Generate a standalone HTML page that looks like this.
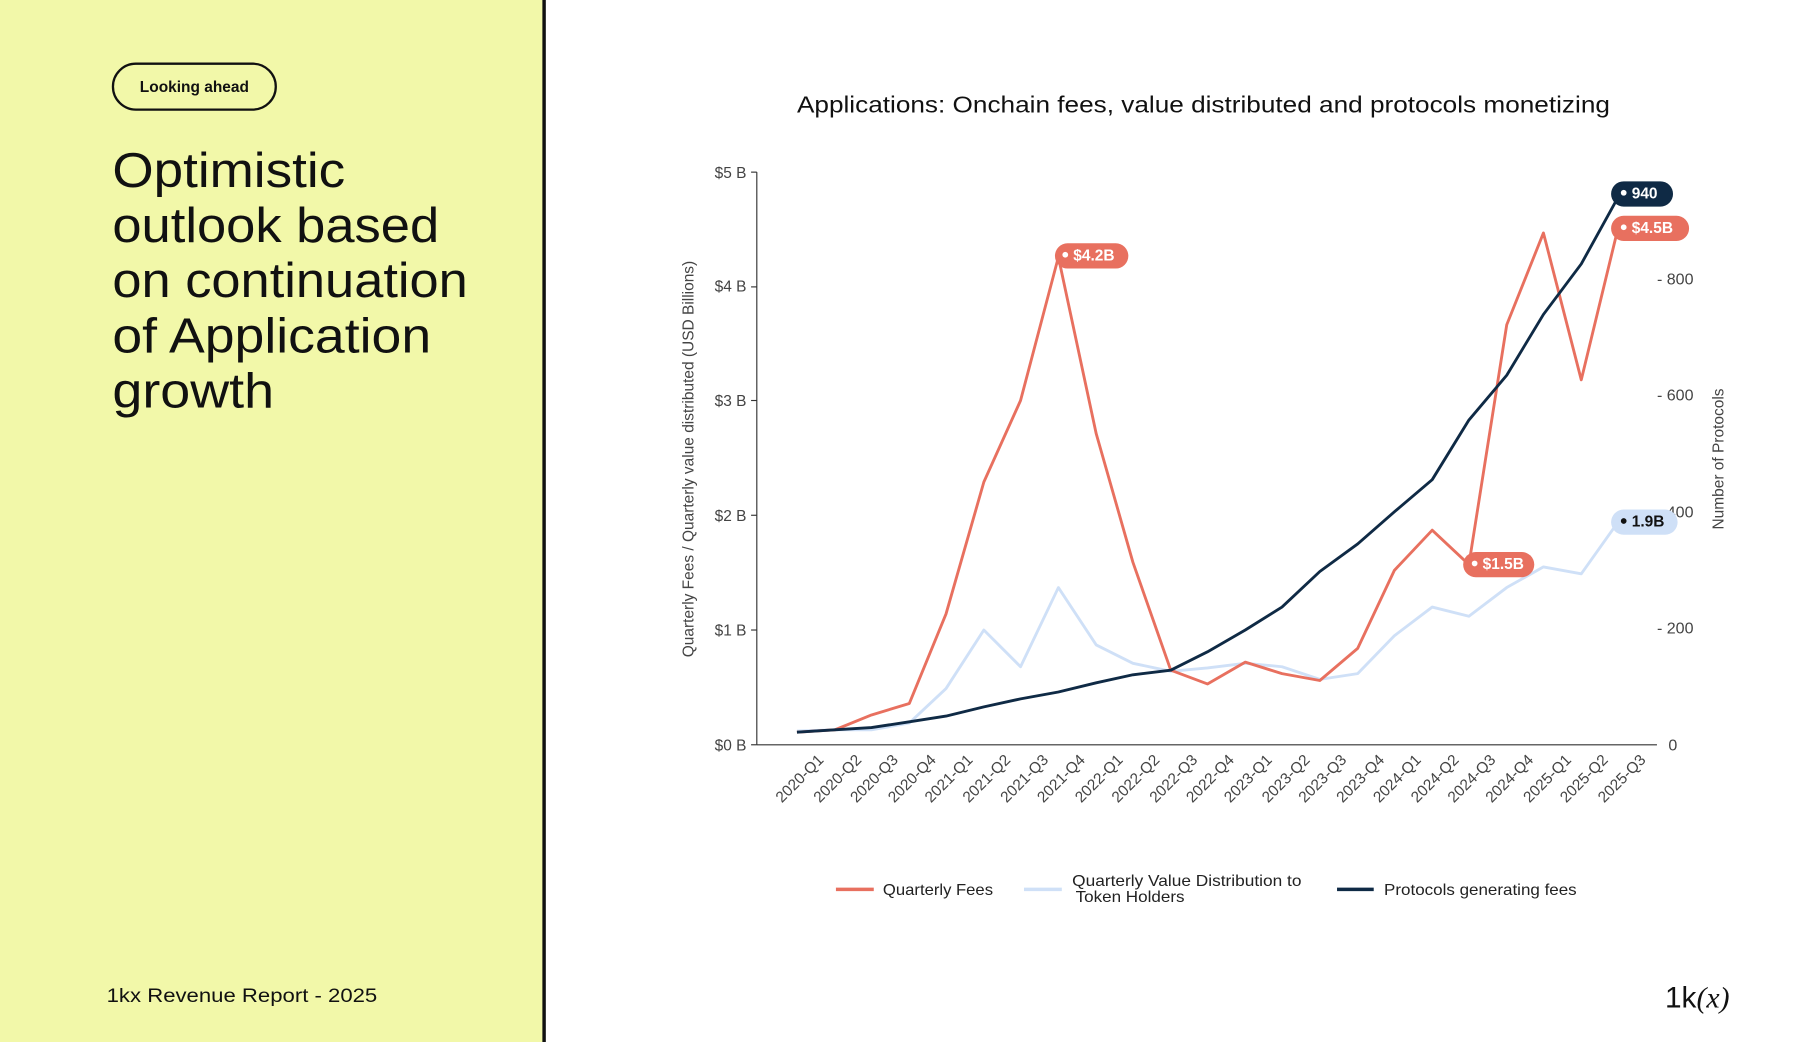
<!DOCTYPE html>
<html><head><meta charset="utf-8"><style>
html,body{margin:0;padding:0;background:#fff;}
svg{display:block;}
</style></head><body>
<svg width="1798" height="1042" viewBox="0 0 1568 908" preserveAspectRatio="none" xmlns="http://www.w3.org/2000/svg" font-family="Liberation Sans, sans-serif">
<rect x="0" y="0" width="1568" height="908" fill="#fff"/>
<rect x="0" y="0" width="474" height="908" fill="#f2f8a9"/>
<rect x="473" y="0" width="3" height="908" fill="#111"/>
<rect x="98.5" y="55.5" width="142" height="40" rx="20" fill="none" stroke="#111" stroke-width="2"/>
<text x="169.5" y="80" font-size="13.5" font-weight="bold" text-anchor="middle" fill="#111">Looking ahead</text>
<g font-size="43" fill="#111">
<text x="98" y="163" textLength="203" lengthAdjust="spacingAndGlyphs">Optimistic</text>
<text x="98" y="211" textLength="285" lengthAdjust="spacingAndGlyphs">outlook based</text>
<text x="98" y="259" textLength="310" lengthAdjust="spacingAndGlyphs">on continuation</text>
<text x="98" y="307" textLength="278" lengthAdjust="spacingAndGlyphs">of Application</text>
<text x="98" y="355" textLength="141" lengthAdjust="spacingAndGlyphs">growth</text>
</g>
<text x="93" y="873" font-size="17" fill="#111" textLength="236" lengthAdjust="spacingAndGlyphs">1kx Revenue Report  - 2025</text>
<text x="1452" y="878" font-size="26" fill="#111">1k<tspan font-family="Liberation Serif, serif" font-style="italic">(x)</tspan></text>

<text x="695" y="98" font-size="20" fill="#111" textLength="709" lengthAdjust="spacingAndGlyphs">Applications: Onchain fees, value distributed and protocols monetizing</text>

<line x1="660" y1="150" x2="660" y2="649" stroke="#333" stroke-width="1"/>
<g font-size="13.5" fill="#444" text-anchor="end">
<text x="651" y="155">$5 B</text><text x="651" y="254">$4 B</text><text x="651" y="354">$3 B</text>
<text x="651" y="454">$2 B</text><text x="651" y="554">$1 B</text><text x="651" y="654">$0 B</text>
</g>
<g stroke="#333"><line x1="655" y1="150" x2="660" y2="150"/><line x1="655" y1="250" x2="660" y2="250"/><line x1="655" y1="349" x2="660" y2="349"/><line x1="655" y1="449" x2="660" y2="449"/><line x1="655" y1="549" x2="660" y2="549"/><line x1="655" y1="649" x2="660" y2="649"/></g>
<line x1="660" y1="649" x2="1445" y2="649" stroke="#333"/>
<text transform="translate(605,400) rotate(-90)" font-size="13.5" fill="#444" text-anchor="middle">Quarterly Fees / Quarterly value distributed (USD Billions)</text>
<g font-size="14" fill="#444">
<text x="1445" y="248">- 800</text><text x="1445" y="349">- 600</text><text x="1445" y="451">- 400</text>
<text x="1445" y="552">- 200</text><text x="1455" y="654">0</text>
</g>
<text transform="translate(1503,400) rotate(-90)" font-size="13.5" fill="#444" text-anchor="middle">Number of Protocols</text>

<g font-size="13.5" fill="#444" text-anchor="end">
<text transform="translate(719,663) rotate(-45)">2020-Q1</text>
<text transform="translate(752,663) rotate(-45)">2020-Q2</text>
<text transform="translate(784,663) rotate(-45)">2020-Q3</text>
<text transform="translate(817,663) rotate(-45)">2020-Q4</text>
<text transform="translate(849,663) rotate(-45)">2021-Q1</text>
<text transform="translate(882,663) rotate(-45)">2021-Q2</text>
<text transform="translate(915,663) rotate(-45)">2021-Q3</text>
<text transform="translate(947,663) rotate(-45)">2021-Q4</text>
<text transform="translate(980,663) rotate(-45)">2022-Q1</text>
<text transform="translate(1012,663) rotate(-45)">2022-Q2</text>
<text transform="translate(1045,663) rotate(-45)">2022-Q3</text>
<text transform="translate(1077,663) rotate(-45)">2022-Q4</text>
<text transform="translate(1110,663) rotate(-45)">2023-Q1</text>
<text transform="translate(1143,663) rotate(-45)">2023-Q2</text>
<text transform="translate(1175,663) rotate(-45)">2023-Q3</text>
<text transform="translate(1208,663) rotate(-45)">2023-Q4</text>
<text transform="translate(1240,663) rotate(-45)">2024-Q1</text>
<text transform="translate(1273,663) rotate(-45)">2024-Q2</text>
<text transform="translate(1305,663) rotate(-45)">2024-Q3</text>
<text transform="translate(1338,663) rotate(-45)">2024-Q4</text>
<text transform="translate(1371,663) rotate(-45)">2025-Q1</text>
<text transform="translate(1403,663) rotate(-45)">2025-Q2</text>
<text transform="translate(1436,663) rotate(-45)">2025-Q3</text>
</g>

<polyline fill="none" stroke="#cfe0f7" stroke-width="2.5" stroke-linejoin="round" points="695,637 728,636 760,636 793,630 825,600 858,549 890,581 923,512 956,562 988,578 1021,585 1053,582 1086,578 1118,581 1151,592 1184,587 1216,554 1249,529 1281,537 1314,512 1346,494 1379,500 1411,455"/>
<polyline fill="none" stroke="#e8705f" stroke-width="2.5" stroke-linejoin="round" points="695,638 728,636 760,623 793,613 825,535 858,420 890,349 923,224 956,378 988,490 1021,584 1053,596 1086,577 1118,587 1151,593 1184,565 1216,497 1249,462 1281,492 1314,283 1346,203 1379,331 1411,199"/>
<polyline fill="none" stroke="#0f2a45" stroke-width="2.5" stroke-linejoin="round" points="695,638 728,636 760,634 793,629 825,624 858,616 890,609 923,603 956,595 988,588 1021,584 1053,568 1086,549 1118,529 1151,498 1184,474 1216,446 1249,418 1281,366 1314,327 1346,274 1379,230 1411,172"/>

<g font-size="13.5" font-weight="bold">
<rect x="920" y="212" width="64" height="22" rx="11" fill="#e8705f"/><circle cx="929" cy="222" r="2.5" fill="#fff"/><text x="936" y="227" fill="#fff">$4.2B</text>
<rect x="1405" y="158" width="54" height="22" rx="11" fill="#0f2a45"/><circle cx="1416" cy="168" r="2.5" fill="#fff"/><text x="1423" y="173" fill="#fff">940</text>
<rect x="1405" y="188" width="68" height="22" rx="11" fill="#e8705f"/><circle cx="1416" cy="198" r="2.5" fill="#fff"/><text x="1423" y="203" fill="#fff">$4.5B</text>
<rect x="1405" y="444" width="58" height="22" rx="11" fill="#cfe0f7"/><circle cx="1416" cy="454" r="2.5" fill="#111"/><text x="1423" y="459" fill="#111">1.9B</text>
<rect x="1276" y="481" width="62" height="22" rx="11" fill="#e8705f"/><circle cx="1286" cy="491" r="2.5" fill="#fff"/><text x="1293" y="496" fill="#fff">$1.5B</text>
</g>

<g font-size="14" fill="#222">
<line x1="729" y1="775" x2="762" y2="775" stroke="#e8705f" stroke-width="3"/><text x="770" y="780" textLength="96" lengthAdjust="spacingAndGlyphs">Quarterly Fees</text>
<line x1="893" y1="775" x2="926" y2="775" stroke="#cfe0f7" stroke-width="3"/><text x="935" y="772" textLength="200" lengthAdjust="spacingAndGlyphs">Quarterly Value Distribution to</text><text x="938" y="786" textLength="95" lengthAdjust="spacingAndGlyphs">Token Holders</text>
<line x1="1166" y1="775" x2="1198" y2="775" stroke="#0f2a45" stroke-width="3"/><text x="1207" y="780" textLength="168" lengthAdjust="spacingAndGlyphs">Protocols generating fees</text>
</g>
</svg>
</body></html>
